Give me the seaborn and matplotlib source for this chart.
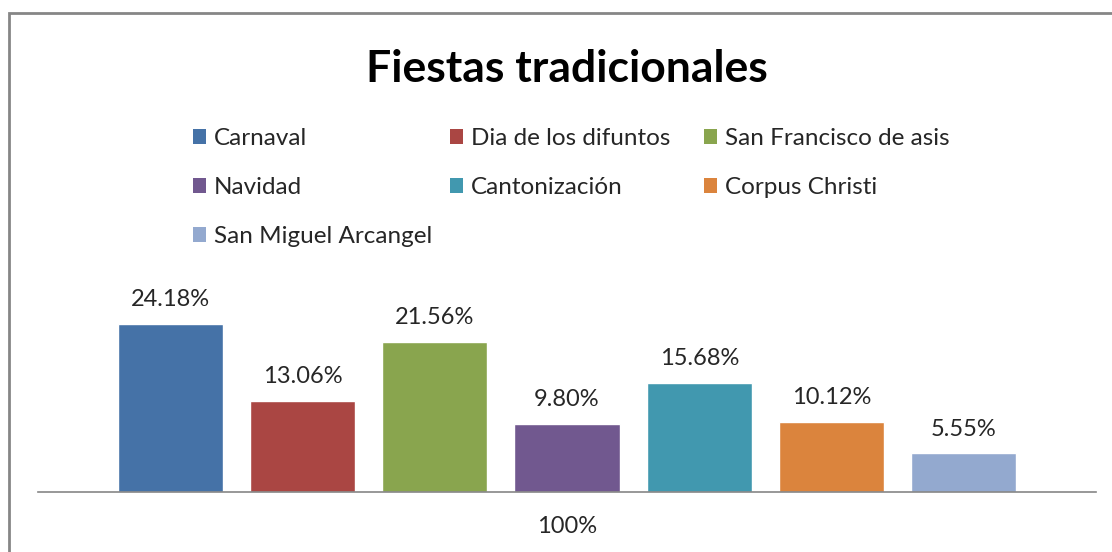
import matplotlib
matplotlib.use("Agg")
import matplotlib.pyplot as plt
from matplotlib.patches import Rectangle, Patch
import seaborn as sns
import pandas as pd

# chart data
fiestas = ["Carnaval", "Dia de los difuntos", "San Francisco de asis", "Navidad",
           "Cantonización", "Corpus Christi", "San Miguel Arcangel"]
porcentajes = [24.18, 13.06, 21.56, 9.80, 15.68, 10.12, 5.55]
colores = ["#4572A7", "#AA4643", "#89A54E", "#71588F", "#4198AF", "#DB843D", "#93A9CF"]
categoria = "100%"

sns.set_theme(style="white")
plt.rcParams["font.family"] = ["Lato", "DejaVu Sans"]

df = pd.DataFrame({"fiesta": fiestas, "valor": porcentajes})

W, H = 1112, 552
fig = plt.figure(figsize=(W / 100, H / 100), dpi=100)
ax = fig.add_axes([38 / W, (H - 492) / H, (1096 - 38) / W, (492 - 280) / H])

sns.barplot(data=df, x="fiesta", y="valor", hue="fiesta", palette=colores,
            width=0.795, legend=False, ax=ax, saturation=1)

for cont in ax.containers:
    ax.bar_label(cont, fmt="%.2f%%", padding=10, fontsize=17, color="#262626")

ax.set_xlim(-1.0, 7.0)
ax.set_ylim(0, 30.5)
ax.set_xticks([3])
ax.set_xticklabels([categoria], fontsize=17, color="#262626")
ax.tick_params(axis="x", length=0, pad=17)
ax.set_yticks([])
ax.set_xlabel("")
ax.set_ylabel("")
for side in ["top", "left", "right"]:
    ax.spines[side].set_visible(False)
ax.spines["bottom"].set_color("#868686")
ax.spines["bottom"].set_linewidth(1.2)

# title
fig.text(567 / W, 1 - 69 / H, "Fiestas tradicionales", ha="center", va="center",
         fontsize=32, fontweight="bold", color="black")

# legend in three columns
columnas = [[0, 3, 6], [1, 4], [2, 5]]
x_cols = [193, 450, 704]
for idx, xc in zip(columnas, x_cols):
    handles = [Patch(facecolor=colores[i], edgecolor="none", label=fiestas[i]) for i in idx]
    fig.legend(handles=handles, loc="upper left", bbox_to_anchor=(xc / W, 1 - 128 / H),
               frameon=False, fontsize=17.5, handlelength=0.55, handleheight=0.55,
               handletextpad=0.3, labelspacing=1.15, borderpad=0, borderaxespad=0,
               labelcolor="#262626")

# outer border
fig.patches.append(Rectangle((9 / W, -0.1), 1.2, 1.1 - 13 / H, transform=fig.transFigure,
                             fill=False, edgecolor="#868686", linewidth=2))

fig.savefig("out.png", dpi=100)
